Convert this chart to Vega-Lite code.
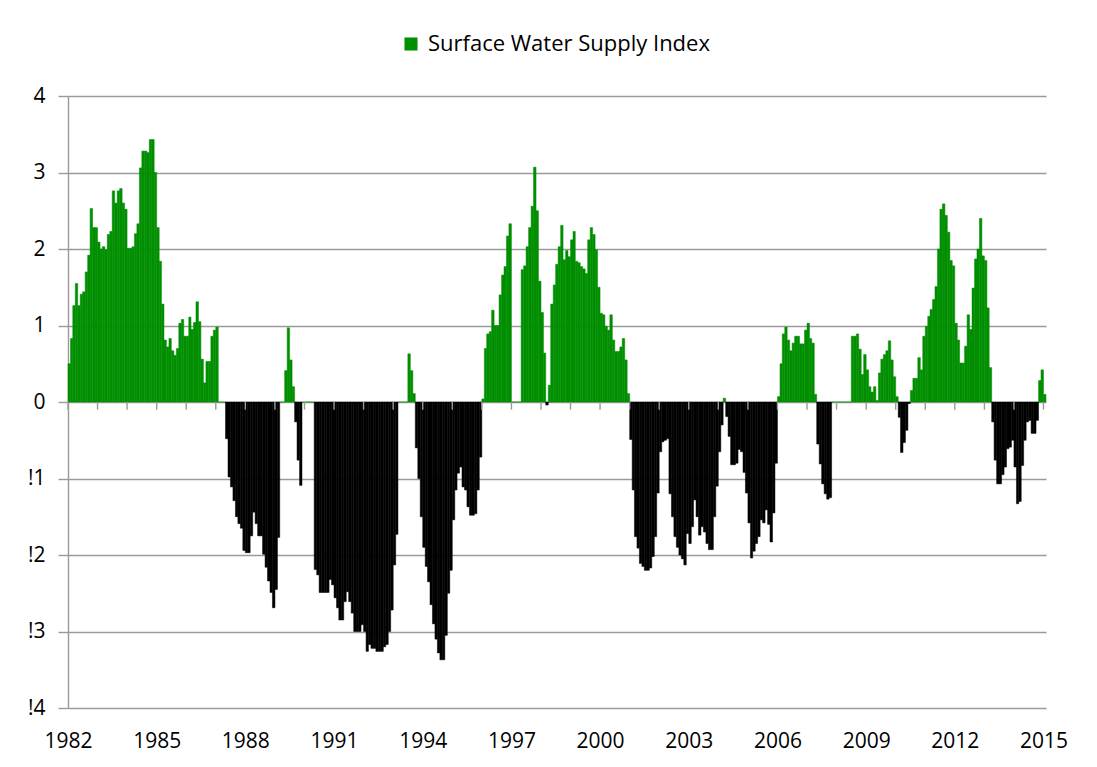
{
  "$schema": "https://vega.github.io/schema/vega-lite/v6.json",
  "width": 978,
  "height": 612,
  "autosize": {"type": "none"},
  "padding": {"left": 68, "top": 96, "right": 51, "bottom": 59},
  "background": "white",
  "config": {
    "view": {"stroke": null},
    "font": "Open Sans",
    "axis": {"labelFont": "Open Sans", "labelColor": "#000000", "titleFont": "Open Sans"}
  },
  "datasets": {
    "swsi": [
      {"d":"1982-01","v":0.50},{"d":"1982-02","v":0.83},{"d":"1982-03","v":1.26},{"d":"1982-04","v":1.55},{"d":"1982-05","v":1.26},{"d":"1982-06","v":1.41},{"d":"1982-07","v":1.44},{"d":"1982-08","v":1.70},{"d":"1982-09","v":1.92},{"d":"1982-10","v":2.53},{"d":"1982-11","v":2.28},{"d":"1982-12","v":2.28},
      {"d":"1983-01","v":2.09},{"d":"1983-02","v":2.00},{"d":"1983-03","v":2.03},{"d":"1983-04","v":1.99},{"d":"1983-05","v":2.19},{"d":"1983-06","v":2.23},{"d":"1983-07","v":2.76},{"d":"1983-08","v":2.60},{"d":"1983-09","v":2.76},{"d":"1983-10","v":2.79},{"d":"1983-11","v":2.60},{"d":"1983-12","v":2.52},
      {"d":"1984-01","v":2.01},{"d":"1984-02","v":2.01},{"d":"1984-03","v":2.03},{"d":"1984-04","v":2.20},{"d":"1984-05","v":2.33},{"d":"1984-06","v":3.06},{"d":"1984-07","v":3.28},{"d":"1984-08","v":3.28},{"d":"1984-09","v":3.26},{"d":"1984-10","v":3.43},{"d":"1984-11","v":3.43},{"d":"1984-12","v":3.00},
      {"d":"1985-01","v":2.28},{"d":"1985-02","v":1.84},{"d":"1985-03","v":1.28},{"d":"1985-04","v":0.81},{"d":"1985-05","v":0.72},{"d":"1985-06","v":0.83},{"d":"1985-07","v":0.67},{"d":"1985-08","v":0.61},{"d":"1985-09","v":0.70},{"d":"1985-10","v":1.03},{"d":"1985-11","v":1.08},{"d":"1985-12","v":0.86},
      {"d":"1986-01","v":0.86},{"d":"1986-02","v":1.11},{"d":"1986-03","v":0.95},{"d":"1986-04","v":1.04},{"d":"1986-05","v":1.31},{"d":"1986-06","v":1.05},{"d":"1986-07","v":0.56},{"d":"1986-08","v":0.25},{"d":"1986-09","v":0.53},{"d":"1986-10","v":0.53},{"d":"1986-11","v":0.86},{"d":"1986-12","v":0.94},
      {"d":"1987-01","v":0.98},{"d":"1987-02","v":0},{"d":"1987-03","v":0},{"d":"1987-04","v":0},{"d":"1987-05","v":-0.48},{"d":"1987-06","v":-0.98},{"d":"1987-07","v":-1.11},{"d":"1987-08","v":-1.29},{"d":"1987-09","v":-1.50},{"d":"1987-10","v":-1.59},{"d":"1987-11","v":-1.65},{"d":"1987-12","v":-1.94},
      {"d":"1988-01","v":-1.97},{"d":"1988-02","v":-1.97},{"d":"1988-03","v":-1.75},{"d":"1988-04","v":-1.44},{"d":"1988-05","v":-1.59},{"d":"1988-06","v":-1.75},{"d":"1988-07","v":-1.75},{"d":"1988-08","v":-1.99},{"d":"1988-09","v":-2.16},{"d":"1988-10","v":-2.34},{"d":"1988-11","v":-2.49},{"d":"1988-12","v":-2.69},
      {"d":"1989-01","v":-2.45},{"d":"1989-02","v":-1.77},{"d":"1989-03","v":0},{"d":"1989-04","v":0},{"d":"1989-05","v":0.41},{"d":"1989-06","v":0.97},{"d":"1989-07","v":0.55},{"d":"1989-08","v":0.20},{"d":"1989-09","v":-0.26},{"d":"1989-10","v":-0.76},{"d":"1989-11","v":-1.09},{"d":"1989-12","v":0},
      {"d":"1990-01","v":0},{"d":"1990-02","v":0},{"d":"1990-03","v":0},{"d":"1990-04","v":0},{"d":"1990-05","v":-2.19},{"d":"1990-06","v":-2.26},{"d":"1990-07","v":-2.49},{"d":"1990-08","v":-2.49},{"d":"1990-09","v":-2.49},{"d":"1990-10","v":-2.49},{"d":"1990-11","v":-2.32},{"d":"1990-12","v":-2.39},
      {"d":"1991-01","v":-2.56},{"d":"1991-02","v":-2.69},{"d":"1991-03","v":-2.85},{"d":"1991-04","v":-2.85},{"d":"1991-05","v":-2.61},{"d":"1991-06","v":-2.48},{"d":"1991-07","v":-2.61},{"d":"1991-08","v":-2.76},{"d":"1991-09","v":-3.00},{"d":"1991-10","v":-3.00},{"d":"1991-11","v":-3.00},{"d":"1991-12","v":-2.91},
      {"d":"1992-01","v":-3.00},{"d":"1992-02","v":-3.26},{"d":"1992-03","v":-3.17},{"d":"1992-04","v":-3.22},{"d":"1992-05","v":-3.22},{"d":"1992-06","v":-3.26},{"d":"1992-07","v":-3.26},{"d":"1992-08","v":-3.26},{"d":"1992-09","v":-3.20},{"d":"1992-10","v":-3.17},{"d":"1992-11","v":-3.00},{"d":"1992-12","v":-2.72},
      {"d":"1993-01","v":-2.13},{"d":"1993-02","v":-1.73},{"d":"1993-03","v":0},{"d":"1993-04","v":0},{"d":"1993-05","v":0},{"d":"1993-06","v":0},{"d":"1993-07","v":0.63},{"d":"1993-08","v":0.41},{"d":"1993-09","v":0.11},{"d":"1993-10","v":-0.60},{"d":"1993-11","v":-1.00},{"d":"1993-12","v":-1.50},
      {"d":"1994-01","v":-1.90},{"d":"1994-02","v":-2.15},{"d":"1994-03","v":-2.35},{"d":"1994-04","v":-2.65},{"d":"1994-05","v":-2.90},{"d":"1994-06","v":-3.10},{"d":"1994-07","v":-3.28},{"d":"1994-08","v":-3.37},{"d":"1994-09","v":-3.37},{"d":"1994-10","v":-3.05},{"d":"1994-11","v":-2.50},{"d":"1994-12","v":-2.20},
      {"d":"1995-01","v":-1.54},{"d":"1995-02","v":-1.15},{"d":"1995-03","v":-0.93},{"d":"1995-04","v":-0.85},{"d":"1995-05","v":-1.11},{"d":"1995-06","v":-1.15},{"d":"1995-07","v":-1.37},{"d":"1995-08","v":-1.48},{"d":"1995-09","v":-1.48},{"d":"1995-10","v":-1.46},{"d":"1995-11","v":-1.15},{"d":"1995-12","v":-0.72},
      {"d":"1996-01","v":0.04},{"d":"1996-02","v":0.70},{"d":"1996-03","v":0.89},{"d":"1996-04","v":0.92},{"d":"1996-05","v":1.20},{"d":"1996-06","v":1.00},{"d":"1996-07","v":1.00},{"d":"1996-08","v":1.40},{"d":"1996-09","v":1.66},{"d":"1996-10","v":1.77},{"d":"1996-11","v":2.17},{"d":"1996-12","v":2.33},
      {"d":"1997-01","v":0},{"d":"1997-02","v":0},{"d":"1997-03","v":0},{"d":"1997-04","v":0},{"d":"1997-05","v":1.73},{"d":"1997-06","v":1.78},{"d":"1997-07","v":2.03},{"d":"1997-08","v":2.28},{"d":"1997-09","v":2.56},{"d":"1997-10","v":3.07},{"d":"1997-11","v":2.50},{"d":"1997-12","v":1.58},
      {"d":"1998-01","v":1.17},{"d":"1998-02","v":0.64},{"d":"1998-03","v":-0.04},{"d":"1998-04","v":0.22},{"d":"1998-05","v":1.28},{"d":"1998-06","v":1.53},{"d":"1998-07","v":1.80},{"d":"1998-08","v":2.03},{"d":"1998-09","v":2.31},{"d":"1998-10","v":1.86},{"d":"1998-11","v":1.98},{"d":"1998-12","v":1.90},
      {"d":"1999-01","v":2.12},{"d":"1999-02","v":2.23},{"d":"1999-03","v":1.84},{"d":"1999-04","v":1.82},{"d":"1999-05","v":1.77},{"d":"1999-06","v":1.74},{"d":"1999-07","v":1.68},{"d":"1999-08","v":2.12},{"d":"1999-09","v":2.28},{"d":"1999-10","v":2.19},{"d":"1999-11","v":1.99},{"d":"1999-12","v":1.50},
      {"d":"2000-01","v":1.16},{"d":"2000-02","v":1.14},{"d":"2000-03","v":0.99},{"d":"2000-04","v":0.94},{"d":"2000-05","v":1.14},{"d":"2000-06","v":0.81},{"d":"2000-07","v":0.66},{"d":"2000-08","v":0.66},{"d":"2000-09","v":0.72},{"d":"2000-10","v":0.83},{"d":"2000-11","v":0.55},{"d":"2000-12","v":0.11},
      {"d":"2001-01","v":-0.49},{"d":"2001-02","v":-1.15},{"d":"2001-03","v":-1.76},{"d":"2001-04","v":-1.91},{"d":"2001-05","v":-2.11},{"d":"2001-06","v":-2.15},{"d":"2001-07","v":-2.20},{"d":"2001-08","v":-2.20},{"d":"2001-09","v":-2.17},{"d":"2001-10","v":-2.02},{"d":"2001-11","v":-1.76},{"d":"2001-12","v":-1.19},
      {"d":"2002-01","v":-0.65},{"d":"2002-02","v":-0.52},{"d":"2002-03","v":-0.50},{"d":"2002-04","v":-0.48},{"d":"2002-05","v":-1.20},{"d":"2002-06","v":-1.50},{"d":"2002-07","v":-1.76},{"d":"2002-08","v":-1.90},{"d":"2002-09","v":-2.00},{"d":"2002-10","v":-2.05},{"d":"2002-11","v":-2.13},{"d":"2002-12","v":-1.72},
      {"d":"2003-01","v":-1.85},{"d":"2003-02","v":-1.63},{"d":"2003-03","v":-1.28},{"d":"2003-04","v":-1.50},{"d":"2003-05","v":-1.74},{"d":"2003-06","v":-1.63},{"d":"2003-07","v":-1.70},{"d":"2003-08","v":-1.85},{"d":"2003-09","v":-1.93},{"d":"2003-10","v":-1.93},{"d":"2003-11","v":-1.50},{"d":"2003-12","v":-1.10},
      {"d":"2004-01","v":-0.65},{"d":"2004-02","v":-0.30},{"d":"2004-03","v":0.05},{"d":"2004-04","v":-0.19},{"d":"2004-05","v":-0.45},{"d":"2004-06","v":-0.82},{"d":"2004-07","v":-0.82},{"d":"2004-08","v":-0.80},{"d":"2004-09","v":-0.62},{"d":"2004-10","v":-0.65},{"d":"2004-11","v":-0.92},{"d":"2004-12","v":-1.19},
      {"d":"2005-01","v":-1.58},{"d":"2005-02","v":-2.04},{"d":"2005-03","v":-1.95},{"d":"2005-04","v":-1.85},{"d":"2005-05","v":-1.76},{"d":"2005-06","v":-1.54},{"d":"2005-07","v":-1.58},{"d":"2005-08","v":-1.41},{"d":"2005-09","v":-1.60},{"d":"2005-10","v":-1.83},{"d":"2005-11","v":-1.45},{"d":"2005-12","v":-0.80},
      {"d":"2006-01","v":0.07},{"d":"2006-02","v":0.50},{"d":"2006-03","v":0.89},{"d":"2006-04","v":0.98},{"d":"2006-05","v":0.81},{"d":"2006-06","v":0.67},{"d":"2006-07","v":0.77},{"d":"2006-08","v":0.86},{"d":"2006-09","v":0.86},{"d":"2006-10","v":0.76},{"d":"2006-11","v":0.76},{"d":"2006-12","v":0.94},
      {"d":"2007-01","v":1.03},{"d":"2007-02","v":0.83},{"d":"2007-03","v":0.77},{"d":"2007-04","v":0.10},{"d":"2007-05","v":-0.55},{"d":"2007-06","v":-0.81},{"d":"2007-07","v":-1.07},{"d":"2007-08","v":-1.20},{"d":"2007-09","v":-1.27},{"d":"2007-10","v":-1.25},{"d":"2007-11","v":0},{"d":"2007-12","v":0},
      {"d":"2008-01","v":0},{"d":"2008-02","v":0},{"d":"2008-03","v":0},{"d":"2008-04","v":0},{"d":"2008-05","v":0},{"d":"2008-06","v":0},{"d":"2008-07","v":0.86},{"d":"2008-08","v":0.86},{"d":"2008-09","v":0.89},{"d":"2008-10","v":0.69},{"d":"2008-11","v":0.36},{"d":"2008-12","v":0.62},
      {"d":"2009-01","v":0.42},{"d":"2009-02","v":0.20},{"d":"2009-03","v":0.13},{"d":"2009-04","v":0.20},{"d":"2009-05","v":0.02},{"d":"2009-06","v":0.38},{"d":"2009-07","v":0.56},{"d":"2009-08","v":0.62},{"d":"2009-09","v":0.67},{"d":"2009-10","v":0.80},{"d":"2009-11","v":0.55},{"d":"2009-12","v":0.33},
      {"d":"2010-01","v":0.07},{"d":"2010-02","v":-0.20},{"d":"2010-03","v":-0.66},{"d":"2010-04","v":-0.53},{"d":"2010-05","v":-0.37},{"d":"2010-06","v":-0.02},{"d":"2010-07","v":0.15},{"d":"2010-08","v":0.31},{"d":"2010-09","v":0.31},{"d":"2010-10","v":0.58},{"d":"2010-11","v":0.42},{"d":"2010-12","v":0.86},
      {"d":"2011-01","v":0.99},{"d":"2011-02","v":1.12},{"d":"2011-03","v":1.21},{"d":"2011-04","v":1.34},{"d":"2011-05","v":1.51},{"d":"2011-06","v":2.00},{"d":"2011-07","v":2.52},{"d":"2011-08","v":2.59},{"d":"2011-09","v":2.44},{"d":"2011-10","v":2.22},{"d":"2011-11","v":1.85},{"d":"2011-12","v":1.78},
      {"d":"2012-01","v":1.03},{"d":"2012-02","v":0.81},{"d":"2012-03","v":0.51},{"d":"2012-04","v":0.51},{"d":"2012-05","v":0.73},{"d":"2012-06","v":1.14},{"d":"2012-07","v":0.95},{"d":"2012-08","v":1.49},{"d":"2012-09","v":1.87},{"d":"2012-10","v":2.00},{"d":"2012-11","v":2.40},{"d":"2012-12","v":1.91},
      {"d":"2013-01","v":1.85},{"d":"2013-02","v":1.23},{"d":"2013-03","v":0.45},{"d":"2013-04","v":-0.26},{"d":"2013-05","v":-0.76},{"d":"2013-06","v":-1.07},{"d":"2013-07","v":-1.07},{"d":"2013-08","v":-0.95},{"d":"2013-09","v":-0.85},{"d":"2013-10","v":-0.61},{"d":"2013-11","v":-0.59},{"d":"2013-12","v":-0.50},
      {"d":"2014-01","v":-0.85},{"d":"2014-02","v":-1.33},{"d":"2014-03","v":-1.30},{"d":"2014-04","v":-0.83},{"d":"2014-05","v":-0.50},{"d":"2014-06","v":-0.26},{"d":"2014-07","v":-0.24},{"d":"2014-08","v":-0.41},{"d":"2014-09","v":-0.41},{"d":"2014-10","v":-0.24},{"d":"2014-11","v":0.28},{"d":"2014-12","v":0.42},
      {"d":"2015-01","v":0.10}
    ],
    "yrs": [
      {"d":"1982-01"},{"d":"1983-01"},{"d":"1984-01"},{"d":"1985-01"},{"d":"1986-01"},{"d":"1987-01"},{"d":"1988-01"},{"d":"1989-01"},{"d":"1990-01"},{"d":"1991-01"},{"d":"1992-01"},{"d":"1993-01"},{"d":"1994-01"},{"d":"1995-01"},{"d":"1996-01"},{"d":"1997-01"},{"d":"1998-01"},{"d":"1999-01"},{"d":"2000-01"},{"d":"2001-01"},{"d":"2002-01"},{"d":"2003-01"},{"d":"2004-01"},{"d":"2005-01"},{"d":"2006-01"},{"d":"2007-01"},{"d":"2008-01"},{"d":"2009-01"},{"d":"2010-01"},{"d":"2011-01"},{"d":"2012-01"},{"d":"2013-01"},{"d":"2014-01"},{"d":"2015-01"}
    ]
  },
  "layer": [
    {
      "data": {"name": "swsi"},
      "transform": [{"timeUnit": "utcyearmonth", "field": "d", "as": "m"}],
      "mark": {"type": "bar", "strokeWidth": 0.5},
      "encoding": {
        "x": {
          "field": "m", "type": "temporal",
          "scale": {"type": "utc", "nice": false, "domain": [{"year": 1982, "month": 1, "date": 1, "utc": true}, {"year": 2015, "month": 2, "date": 1, "utc": true}]},
          "axis": {
            "title": null,
            "values": [{"year":1982,"month":1,"date":1,"utc":true},{"year":1985,"month":1,"date":1,"utc":true},{"year":1988,"month":1,"date":1,"utc":true},{"year":1991,"month":1,"date":1,"utc":true},{"year":1994,"month":1,"date":1,"utc":true},{"year":1997,"month":1,"date":1,"utc":true},{"year":2000,"month":1,"date":1,"utc":true},{"year":2003,"month":1,"date":1,"utc":true},{"year":2006,"month":1,"date":1,"utc":true},{"year":2009,"month":1,"date":1,"utc":true},{"year":2012,"month":1,"date":1,"utc":true},{"year":2015,"month":1,"date":1,"utc":true}],
            "format": "%Y",
            "grid": false, "ticks": false, "domain": false,
            "labelFontSize": 21, "labelPadding": 22, "labelOverlap": false, "labelFlush": false
          }
        },
        "x2": {"field": "m_end"},
        "y": {
          "field": "v", "type": "quantitative",
          "scale": {"domain": [-4, 4], "nice": false},
          "axis": {
            "title": null,
            "values": [-4, -3, -2, -1, 0, 1, 2, 3, 4],
            "labelExpr": "datum.value < 0 ? '!' + (-datum.value) : '' + datum.value",
            "grid": true, "gridColor": "#9a9a9a", "gridWidth": 1.4,
            "domain": true, "domainColor": "#9a9a9a", "domainWidth": 1.4,
            "ticks": true, "tickColor": "#9a9a9a", "tickSize": 10, "tickWidth": 1.4,
            "labelFontSize": 21, "labelPadding": 13
          }
        },
        "y2": {"datum": 0},
        "color": {
          "condition": {"test": "datum.v < 0", "value": "#000000"},
          "datum": "Surface Water Supply Index",
          "type": "nominal",
          "scale": {"range": ["#008F00"]},
          "legend": {
            "orient": "none", "legendX": 332, "legendY": -63,
            "title": null, "symbolType": "square", "symbolSize": 170,
            "symbolStrokeWidth": 0, "symbolOpacity": 1,
            "labelFontSize": 22, "labelFont": "Open Sans", "labelColor": "#000000",
            "labelOffset": 6, "labelLimit": 500, "padding": 0
          }
        },
        "stroke": {
          "condition": {"test": "datum.v < 0", "value": "#000000"},
          "value": "#008F00"
        }
      }
    },
    {
      "mark": {"type": "rule", "color": "#9a9a9a", "strokeWidth": 1.4},
      "encoding": {"y": {"datum": 0}}
    },
    {
      "data": {"name": "yrs"},
      "mark": {"type": "rule", "color": "#9a9a9a", "strokeWidth": 1.4},
      "encoding": {
        "x": {"field": "d", "type": "temporal"},
        "y": {"datum": 0},
        "y2": {"datum": -0.1}
      }
    }
  ]
}
